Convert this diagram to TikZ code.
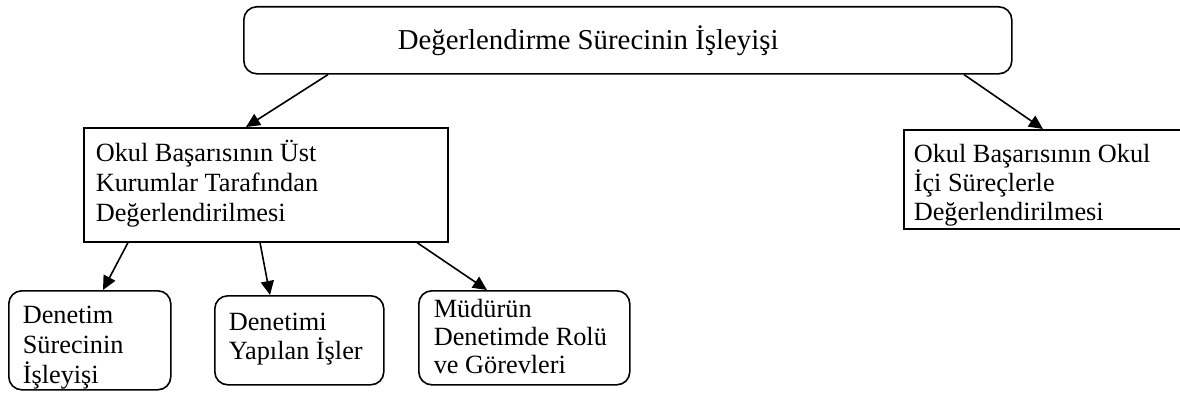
\documentclass[tikz,border=0pt]{standalone}
\usepackage{fontspec}
\setmainfont{Liberation Serif}
\usetikzlibrary{arrows.meta}
\newcommand\bxt[6]{\parbox[c][#2][t]{#1}{\fontsize{26.3pt}{#5}\selectfont\raggedright\leftskip=#3\relax\rule{0pt}{#4}#6}}
\begin{document}
\begin{tikzpicture}[x=1pt,y=-1pt,
  boxsq/.style={draw,line width=1.6pt,inner sep=0pt,anchor=north west},
  boxrd/.style={boxsq,rounded corners=13pt},
  arr/.style={line width=1.6pt,-{Triangle[length=14pt,width=13pt]}}]
\useasboundingbox (0,0) rectangle (1180,396);
\node[boxrd] (title) at (243,6) {\parbox[c][67pt][t]{768pt}{\fontsize{28.8pt}{32pt}\selectfont\leftskip=154pt\relax\rule{0pt}{43pt}Değerlendirme Sürecinin İşleyişi}};
\node[boxsq] (okul) at (83,127) {\bxt{364pt}{114pt}{12pt}{34pt}{30pt}{Okul Başarısının Üst\\Kurumlar Tarafından\\Değerlendirilmesi}};
\node[boxsq] (ici) at (903,129) {\bxt{276.5pt}{99pt}{10pt}{33pt}{29pt}{Okul Başarısının Okul\\İçi Süreçlerle\\Değerlendirilmesi}};
\node[boxrd] (den) at (8,290) {\bxt{162pt}{99pt}{14pt}{33pt}{30pt}{Denetim\\Sürecinin\\İşleyişi}};
\node[boxrd] (dyi) at (214,295) {\bxt{169pt}{89pt}{14pt}{35pt}{28.5pt}{Denetimi\\Yapılan İşler}};
\node[boxrd] (mud) at (418,290) {\bxt{211pt}{94pt}{15pt}{27pt}{28pt}{Müdürün\\Denetimde Rolü\\ve Görevleri}};
\draw[arr] ([xshift=85pt]title.south west) -- ([xshift=163pt]okul.north west);
\draw[arr] ([xshift=721pt]title.south west) -- ([xshift=140pt]ici.north west);
\draw[arr] ([xshift=45pt]okul.south west) -- ([xshift=95pt]den.north west);
\draw[arr] ([xshift=177pt]okul.south west) -- ([xshift=56pt]dyi.north west);
\draw[arr] ([xshift=334pt]okul.south west) -- ([xshift=69pt]mud.north west);
\end{tikzpicture}
\end{document}
